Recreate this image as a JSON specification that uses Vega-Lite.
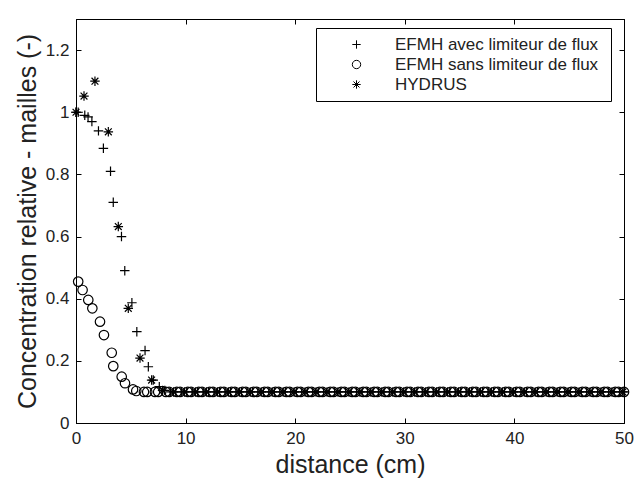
{
  "$schema": "https://vega.github.io/schema/vega-lite/v6.json",
  "width": 548,
  "height": 404,
  "autosize": {"type": "none"},
  "padding": {"left": 76, "top": 19, "right": 11, "bottom": 58},
  "background": "white",
  "config": {
    "view": {"stroke": "black", "strokeWidth": 1},
    "font": "Liberation Sans",
    "axis": {
      "grid": false,
      "domainColor": "black",
      "domainWidth": 1,
      "tickColor": "black",
      "tickSize": -5,
      "labelFont": "Liberation Sans",
      "labelFontSize": 17,
      "labelColor": "#222222",
      "titleFont": "Liberation Sans",
      "titleFontWeight": "normal",
      "titleFontSize": 25,
      "titleColor": "#222222"
    }
  },
  "data": {
    "values": [
      {"s": "avec", "x": 0, "y": 1.0},
      {"s": "avec", "x": 0.2, "y": 1.0},
      {"s": "avec", "x": 0.8, "y": 0.99},
      {"s": "avec", "x": 1.1, "y": 0.985},
      {"s": "avec", "x": 1.45, "y": 0.97},
      {"s": "avec", "x": 2.05, "y": 0.94},
      {"s": "avec", "x": 2.5, "y": 0.884},
      {"s": "avec", "x": 3.15, "y": 0.81},
      {"s": "avec", "x": 3.4, "y": 0.71},
      {"s": "avec", "x": 4.15, "y": 0.6},
      {"s": "avec", "x": 4.45, "y": 0.49},
      {"s": "avec", "x": 5.1, "y": 0.387},
      {"s": "avec", "x": 5.55, "y": 0.294},
      {"s": "avec", "x": 6.3, "y": 0.233},
      {"s": "avec", "x": 6.6, "y": 0.181},
      {"s": "avec", "x": 7.05, "y": 0.138},
      {"s": "avec", "x": 7.6, "y": 0.117},
      {"s": "avec", "x": 8.1, "y": 0.105},
      {"s": "avec", "x": 8.6, "y": 0.1},
      {"s": "avec", "x": 9.1, "y": 0.1},
      {"s": "avec", "x": 9.6, "y": 0.1},
      {"s": "avec", "x": 10.1, "y": 0.1},
      {"s": "avec", "x": 10.6, "y": 0.1},
      {"s": "avec", "x": 11.1, "y": 0.1},
      {"s": "avec", "x": 11.6, "y": 0.1},
      {"s": "avec", "x": 12.1, "y": 0.1},
      {"s": "avec", "x": 12.6, "y": 0.1},
      {"s": "avec", "x": 13.1, "y": 0.1},
      {"s": "avec", "x": 13.6, "y": 0.1},
      {"s": "avec", "x": 14.1, "y": 0.1},
      {"s": "avec", "x": 14.6, "y": 0.1},
      {"s": "avec", "x": 15.1, "y": 0.1},
      {"s": "avec", "x": 15.6, "y": 0.1},
      {"s": "avec", "x": 16.1, "y": 0.1},
      {"s": "avec", "x": 16.6, "y": 0.1},
      {"s": "avec", "x": 17.1, "y": 0.1},
      {"s": "avec", "x": 17.6, "y": 0.1},
      {"s": "avec", "x": 18.1, "y": 0.1},
      {"s": "avec", "x": 18.6, "y": 0.1},
      {"s": "avec", "x": 19.1, "y": 0.1},
      {"s": "avec", "x": 19.6, "y": 0.1},
      {"s": "avec", "x": 20.1, "y": 0.1},
      {"s": "avec", "x": 20.6, "y": 0.1},
      {"s": "avec", "x": 21.1, "y": 0.1},
      {"s": "avec", "x": 21.6, "y": 0.1},
      {"s": "avec", "x": 22.1, "y": 0.1},
      {"s": "avec", "x": 22.6, "y": 0.1},
      {"s": "avec", "x": 23.1, "y": 0.1},
      {"s": "avec", "x": 23.6, "y": 0.1},
      {"s": "avec", "x": 24.1, "y": 0.1},
      {"s": "avec", "x": 24.6, "y": 0.1},
      {"s": "avec", "x": 25.1, "y": 0.1},
      {"s": "avec", "x": 25.6, "y": 0.1},
      {"s": "avec", "x": 26.1, "y": 0.1},
      {"s": "avec", "x": 26.6, "y": 0.1},
      {"s": "avec", "x": 27.1, "y": 0.1},
      {"s": "avec", "x": 27.6, "y": 0.1},
      {"s": "avec", "x": 28.1, "y": 0.1},
      {"s": "avec", "x": 28.6, "y": 0.1},
      {"s": "avec", "x": 29.1, "y": 0.1},
      {"s": "avec", "x": 29.6, "y": 0.1},
      {"s": "avec", "x": 30.1, "y": 0.1},
      {"s": "avec", "x": 30.6, "y": 0.1},
      {"s": "avec", "x": 31.1, "y": 0.1},
      {"s": "avec", "x": 31.6, "y": 0.1},
      {"s": "avec", "x": 32.1, "y": 0.1},
      {"s": "avec", "x": 32.6, "y": 0.1},
      {"s": "avec", "x": 33.1, "y": 0.1},
      {"s": "avec", "x": 33.6, "y": 0.1},
      {"s": "avec", "x": 34.1, "y": 0.1},
      {"s": "avec", "x": 34.6, "y": 0.1},
      {"s": "avec", "x": 35.1, "y": 0.1},
      {"s": "avec", "x": 35.6, "y": 0.1},
      {"s": "avec", "x": 36.1, "y": 0.1},
      {"s": "avec", "x": 36.6, "y": 0.1},
      {"s": "avec", "x": 37.1, "y": 0.1},
      {"s": "avec", "x": 37.6, "y": 0.1},
      {"s": "avec", "x": 38.1, "y": 0.1},
      {"s": "avec", "x": 38.6, "y": 0.1},
      {"s": "avec", "x": 39.1, "y": 0.1},
      {"s": "avec", "x": 39.6, "y": 0.1},
      {"s": "avec", "x": 40.1, "y": 0.1},
      {"s": "avec", "x": 40.6, "y": 0.1},
      {"s": "avec", "x": 41.1, "y": 0.1},
      {"s": "avec", "x": 41.6, "y": 0.1},
      {"s": "avec", "x": 42.1, "y": 0.1},
      {"s": "avec", "x": 42.6, "y": 0.1},
      {"s": "avec", "x": 43.1, "y": 0.1},
      {"s": "avec", "x": 43.6, "y": 0.1},
      {"s": "avec", "x": 44.1, "y": 0.1},
      {"s": "avec", "x": 44.6, "y": 0.1},
      {"s": "avec", "x": 45.1, "y": 0.1},
      {"s": "avec", "x": 45.6, "y": 0.1},
      {"s": "avec", "x": 46.1, "y": 0.1},
      {"s": "avec", "x": 46.6, "y": 0.1},
      {"s": "avec", "x": 47.1, "y": 0.1},
      {"s": "avec", "x": 47.6, "y": 0.1},
      {"s": "avec", "x": 48.1, "y": 0.1},
      {"s": "avec", "x": 48.6, "y": 0.1},
      {"s": "avec", "x": 49.1, "y": 0.1},
      {"s": "avec", "x": 49.6, "y": 0.1},
      {"s": "avec", "x": 50, "y": 0.1},
      {"s": "sans", "x": 0.2, "y": 0.455},
      {"s": "sans", "x": 0.6, "y": 0.428},
      {"s": "sans", "x": 1.12, "y": 0.396},
      {"s": "sans", "x": 1.49, "y": 0.369},
      {"s": "sans", "x": 2.19, "y": 0.326},
      {"s": "sans", "x": 2.55, "y": 0.283},
      {"s": "sans", "x": 3.26, "y": 0.226},
      {"s": "sans", "x": 3.4, "y": 0.183},
      {"s": "sans", "x": 4.17, "y": 0.149},
      {"s": "sans", "x": 4.47, "y": 0.128},
      {"s": "sans", "x": 5.2, "y": 0.108},
      {"s": "sans", "x": 5.5, "y": 0.103},
      {"s": "sans", "x": 6.2, "y": 0.1},
      {"s": "sans", "x": 6.5, "y": 0.1},
      {"s": "sans", "x": 7.2, "y": 0.1},
      {"s": "sans", "x": 7.5, "y": 0.1},
      {"s": "sans", "x": 8.2, "y": 0.1},
      {"s": "sans", "x": 8.5, "y": 0.1},
      {"s": "sans", "x": 9.2, "y": 0.1},
      {"s": "sans", "x": 9.5, "y": 0.1},
      {"s": "sans", "x": 10.2, "y": 0.1},
      {"s": "sans", "x": 10.5, "y": 0.1},
      {"s": "sans", "x": 11.2, "y": 0.1},
      {"s": "sans", "x": 11.5, "y": 0.1},
      {"s": "sans", "x": 12.2, "y": 0.1},
      {"s": "sans", "x": 12.5, "y": 0.1},
      {"s": "sans", "x": 13.2, "y": 0.1},
      {"s": "sans", "x": 13.5, "y": 0.1},
      {"s": "sans", "x": 14.2, "y": 0.1},
      {"s": "sans", "x": 14.5, "y": 0.1},
      {"s": "sans", "x": 15.2, "y": 0.1},
      {"s": "sans", "x": 15.5, "y": 0.1},
      {"s": "sans", "x": 16.2, "y": 0.1},
      {"s": "sans", "x": 16.5, "y": 0.1},
      {"s": "sans", "x": 17.2, "y": 0.1},
      {"s": "sans", "x": 17.5, "y": 0.1},
      {"s": "sans", "x": 18.2, "y": 0.1},
      {"s": "sans", "x": 18.5, "y": 0.1},
      {"s": "sans", "x": 19.2, "y": 0.1},
      {"s": "sans", "x": 19.5, "y": 0.1},
      {"s": "sans", "x": 20.2, "y": 0.1},
      {"s": "sans", "x": 20.5, "y": 0.1},
      {"s": "sans", "x": 21.2, "y": 0.1},
      {"s": "sans", "x": 21.5, "y": 0.1},
      {"s": "sans", "x": 22.2, "y": 0.1},
      {"s": "sans", "x": 22.5, "y": 0.1},
      {"s": "sans", "x": 23.2, "y": 0.1},
      {"s": "sans", "x": 23.5, "y": 0.1},
      {"s": "sans", "x": 24.2, "y": 0.1},
      {"s": "sans", "x": 24.5, "y": 0.1},
      {"s": "sans", "x": 25.2, "y": 0.1},
      {"s": "sans", "x": 25.5, "y": 0.1},
      {"s": "sans", "x": 26.2, "y": 0.1},
      {"s": "sans", "x": 26.5, "y": 0.1},
      {"s": "sans", "x": 27.2, "y": 0.1},
      {"s": "sans", "x": 27.5, "y": 0.1},
      {"s": "sans", "x": 28.2, "y": 0.1},
      {"s": "sans", "x": 28.5, "y": 0.1},
      {"s": "sans", "x": 29.2, "y": 0.1},
      {"s": "sans", "x": 29.5, "y": 0.1},
      {"s": "sans", "x": 30.2, "y": 0.1},
      {"s": "sans", "x": 30.5, "y": 0.1},
      {"s": "sans", "x": 31.2, "y": 0.1},
      {"s": "sans", "x": 31.5, "y": 0.1},
      {"s": "sans", "x": 32.2, "y": 0.1},
      {"s": "sans", "x": 32.5, "y": 0.1},
      {"s": "sans", "x": 33.2, "y": 0.1},
      {"s": "sans", "x": 33.5, "y": 0.1},
      {"s": "sans", "x": 34.2, "y": 0.1},
      {"s": "sans", "x": 34.5, "y": 0.1},
      {"s": "sans", "x": 35.2, "y": 0.1},
      {"s": "sans", "x": 35.5, "y": 0.1},
      {"s": "sans", "x": 36.2, "y": 0.1},
      {"s": "sans", "x": 36.5, "y": 0.1},
      {"s": "sans", "x": 37.2, "y": 0.1},
      {"s": "sans", "x": 37.5, "y": 0.1},
      {"s": "sans", "x": 38.2, "y": 0.1},
      {"s": "sans", "x": 38.5, "y": 0.1},
      {"s": "sans", "x": 39.2, "y": 0.1},
      {"s": "sans", "x": 39.5, "y": 0.1},
      {"s": "sans", "x": 40.2, "y": 0.1},
      {"s": "sans", "x": 40.5, "y": 0.1},
      {"s": "sans", "x": 41.2, "y": 0.1},
      {"s": "sans", "x": 41.5, "y": 0.1},
      {"s": "sans", "x": 42.2, "y": 0.1},
      {"s": "sans", "x": 42.5, "y": 0.1},
      {"s": "sans", "x": 43.2, "y": 0.1},
      {"s": "sans", "x": 43.5, "y": 0.1},
      {"s": "sans", "x": 44.2, "y": 0.1},
      {"s": "sans", "x": 44.5, "y": 0.1},
      {"s": "sans", "x": 45.2, "y": 0.1},
      {"s": "sans", "x": 45.5, "y": 0.1},
      {"s": "sans", "x": 46.2, "y": 0.1},
      {"s": "sans", "x": 46.5, "y": 0.1},
      {"s": "sans", "x": 47.2, "y": 0.1},
      {"s": "sans", "x": 47.5, "y": 0.1},
      {"s": "sans", "x": 48.2, "y": 0.1},
      {"s": "sans", "x": 48.5, "y": 0.1},
      {"s": "sans", "x": 49.2, "y": 0.1},
      {"s": "sans", "x": 49.5, "y": 0.1},
      {"s": "sans", "x": 50, "y": 0.1},
      {"s": "hydrus", "x": 0, "y": 1.0},
      {"s": "hydrus", "x": 0.73, "y": 1.052},
      {"s": "hydrus", "x": 1.73, "y": 1.1},
      {"s": "hydrus", "x": 2.95, "y": 0.937},
      {"s": "hydrus", "x": 3.86, "y": 0.632},
      {"s": "hydrus", "x": 4.77, "y": 0.369},
      {"s": "hydrus", "x": 5.84, "y": 0.209},
      {"s": "hydrus", "x": 6.9, "y": 0.138},
      {"s": "hydrus", "x": 7.9, "y": 0.105},
      {"s": "hydrus", "x": 8.9, "y": 0.1},
      {"s": "hydrus", "x": 9.9, "y": 0.1},
      {"s": "hydrus", "x": 10.9, "y": 0.1},
      {"s": "hydrus", "x": 11.9, "y": 0.1},
      {"s": "hydrus", "x": 12.9, "y": 0.1},
      {"s": "hydrus", "x": 13.9, "y": 0.1},
      {"s": "hydrus", "x": 14.9, "y": 0.1},
      {"s": "hydrus", "x": 15.9, "y": 0.1},
      {"s": "hydrus", "x": 16.9, "y": 0.1},
      {"s": "hydrus", "x": 17.9, "y": 0.1},
      {"s": "hydrus", "x": 18.9, "y": 0.1},
      {"s": "hydrus", "x": 19.9, "y": 0.1},
      {"s": "hydrus", "x": 20.9, "y": 0.1},
      {"s": "hydrus", "x": 21.9, "y": 0.1},
      {"s": "hydrus", "x": 22.9, "y": 0.1},
      {"s": "hydrus", "x": 23.9, "y": 0.1},
      {"s": "hydrus", "x": 24.9, "y": 0.1},
      {"s": "hydrus", "x": 25.9, "y": 0.1},
      {"s": "hydrus", "x": 26.9, "y": 0.1},
      {"s": "hydrus", "x": 27.9, "y": 0.1},
      {"s": "hydrus", "x": 28.9, "y": 0.1},
      {"s": "hydrus", "x": 29.9, "y": 0.1},
      {"s": "hydrus", "x": 30.9, "y": 0.1},
      {"s": "hydrus", "x": 31.9, "y": 0.1},
      {"s": "hydrus", "x": 32.9, "y": 0.1},
      {"s": "hydrus", "x": 33.9, "y": 0.1},
      {"s": "hydrus", "x": 34.9, "y": 0.1},
      {"s": "hydrus", "x": 35.9, "y": 0.1},
      {"s": "hydrus", "x": 36.9, "y": 0.1},
      {"s": "hydrus", "x": 37.9, "y": 0.1},
      {"s": "hydrus", "x": 38.9, "y": 0.1},
      {"s": "hydrus", "x": 39.9, "y": 0.1},
      {"s": "hydrus", "x": 40.9, "y": 0.1},
      {"s": "hydrus", "x": 41.9, "y": 0.1},
      {"s": "hydrus", "x": 42.9, "y": 0.1},
      {"s": "hydrus", "x": 43.9, "y": 0.1},
      {"s": "hydrus", "x": 44.9, "y": 0.1},
      {"s": "hydrus", "x": 45.9, "y": 0.1},
      {"s": "hydrus", "x": 46.9, "y": 0.1},
      {"s": "hydrus", "x": 47.9, "y": 0.1},
      {"s": "hydrus", "x": 48.9, "y": 0.1},
      {"s": "hydrus", "x": 49.9, "y": 0.1}
    ]
  },
  "resolve": {"axis": {"x": "independent", "y": "independent"}},
  "layer": [
    {
      "mark": {"type": "point", "filled": false, "stroke": "black", "strokeWidth": 1.2, "size": 90, "opacity": 1},
      "encoding": {
        "x": {
          "field": "x", "type": "quantitative",
          "scale": {"domain": [0, 50], "nice": false, "zero": false},
          "axis": {"orient": "bottom", "values": [0, 10, 20, 30, 40, 50], "title": "distance (cm)", "labelPadding": 12, "titlePadding": 6, "labelFlush": false}
        },
        "y": {
          "field": "y", "type": "quantitative",
          "scale": {"domain": [0, 1.3], "nice": false, "zero": false},
          "axis": {"orient": "left", "values": [0, 0.2, 0.4, 0.6, 0.8, 1, 1.2], "format": ".1~f", "title": "Concentration relative - mailles (-)", "labelPadding": 12, "titlePadding": 5, "labelFlush": false}
        },
        "shape": {
          "field": "s", "type": "nominal",
          "scale": {"domain": ["avec", "sans", "hydrus"], "range": ["M-1,0L1,0M0,-1L0,1", "circle", "M-1,0L1,0M0,-1L0,1M-0.72,-0.72L0.72,0.72M-0.72,0.72L0.72,-0.72"]},
          "legend": {
            "orient": "none", "legendX": 240, "legendY": 9,
            "title": null,
            "strokeColor": "black", "fillColor": "white", "padding": 8,
            "symbolOffset": 24, "symbolSize": 70, "symbolStrokeColor": "black", "symbolFillColor": "transparent", "symbolStrokeWidth": 1,
            "labelOffset": 30, "labelFont": "Liberation Sans", "labelFontSize": 17, "labelColor": "#222222", "labelLimit": 400,
            "rowPadding": 2,
            "labelExpr": "datum.value == 'avec' ? 'EFMH  avec limiteur de flux' : datum.value == 'sans' ? 'EFMH  sans limiteur de flux' : 'HYDRUS'"
          }
        }
      }
    },
    {
      "mark": {"type": "point", "opacity": 0},
      "encoding": {
        "x": {"field": "x", "type": "quantitative", "axis": {"orient": "top", "values": [0, 10, 20, 30, 40, 50], "labels": false, "title": null}},
        "y": {"field": "y", "type": "quantitative", "axis": {"orient": "right", "values": [0, 0.2, 0.4, 0.6, 0.8, 1, 1.2], "labels": false, "title": null}}
      }
    }
  ]
}
